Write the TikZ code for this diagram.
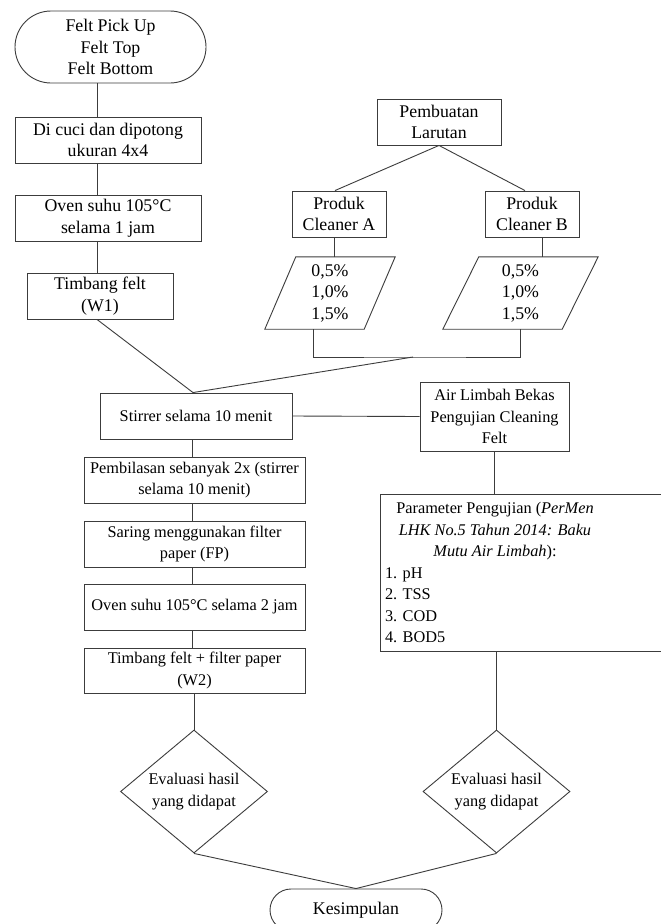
\documentclass[tikz,border=0pt]{standalone}
\usepackage{fontspec}
\setmainfont{Liberation Serif}
\usetikzlibrary{shapes.geometric}
\definecolor{lc}{HTML}{3C3C3C}
\newcommand\txtL{\fontsize{17.8}{21.5}\selectfont}
\newcommand\txtS{\fontsize{16.3}{21.5}\selectfont}
\begin{document}
\begin{tikzpicture}[x=1pt,y=-1pt,
  box/.style={draw=lc, line width=0.9pt, rectangle, inner sep=0pt, align=center, font=\txtL},
  term/.style={draw=lc, line width=0.9pt, rectangle, inner sep=0pt, align=center, font=\txtL},
  txt/.style={inner sep=0pt, align=center, font=\txtL},
  dia/.style={diamond, draw=lc, line width=0.9pt, aspect=1.2, inner sep=0pt, minimum width=147pt, minimum height=123pt, align=center, font=\txtS},
  conn/.style={draw=lc, line width=0.9pt}]
\useasboundingbox (0,0) rectangle (661,924);
\clip (0,0) rectangle (661,924);
\fill[white] (0,0) rectangle (661,924);

% left top column
\node[term, minimum width=191pt, minimum height=72pt, rounded corners=36pt] (start) at (110.5,47) {Felt Pick Up\\Felt Top\\Felt Bottom};
\node[box, minimum width=186pt, minimum height=46pt] (b1) at (108,140) {Di cuci dan dipotong\\ukuran 4x4};
\node[box, minimum width=186pt, minimum height=46pt] (b2) at (108,218) {Oven suhu 105°C\\selama 1 jam};
\node[box, minimum width=146pt, minimum height=46pt] (b3) at (100,296) {Timbang felt\\(W1)};

% right top
\node[box, minimum width=124pt, minimum height=46pt] (lar) at (439,122) {Pembuatan\\Larutan};
\node[box, minimum width=94pt, minimum height=46pt] (ca) at (339,214) {Produk\\Cleaner A};
\node[box, minimum width=94pt, minimum height=46pt] (cb) at (532,214) {Produk\\Cleaner B};
\node[txt, minimum width=130pt, minimum height=72pt] (pa) at (330,293) {0,5\%\\1,0\%\\1,5\%};
\node[txt, minimum width=155pt, minimum height=72pt] (pb) at (520.5,293) {0,5\%\\1,0\%\\1,5\%};
\draw[conn] ([xshift=31pt]pa.north west) -- (pa.north east) -- ([xshift=-31pt]pa.south east) -- (pa.south west) -- cycle;
\draw[conn] ([xshift=36pt]pb.north west) -- (pb.north east) -- ([xshift=-36pt]pb.south east) -- (pb.south west) -- cycle;

% middle
\node[box, font=\txtS, minimum width=192pt, minimum height=46pt] (stir) at (196,416) {Stirrer selama 10 menit};
\node[box, font=\txtS, minimum width=149pt, minimum height=69pt] (air) at (494.5,416.5) {Air Limbah Bekas\\Pengujian Cleaning\\Felt};
\node[box, minimum width=285pt, minimum height=157pt] (par) at (522.5,572.5) {};
\node[inner sep=0pt, font=\txtS] (partxt) at (495,572.5) {\parbox{220pt}{\txtS\centering Parameter Pengujian (\textit{PerMen}\\\textit{LHK No.5 Tahun 2014: Baku}\\\textit{Mutu Air Limbah}):\par\raggedright 1. pH\\2. TSS\\3. COD\\4. BOD5}};

% left column
\node[box, font=\txtS, minimum width=221pt, minimum height=46pt] (p1) at (194.5,480) {Pembilasan sebanyak 2x (stirrer\\selama 10 menit)};
\node[box, font=\txtS, minimum width=221pt, minimum height=46pt] (p2) at (194.5,544) {Saring menggunakan filter\\paper (FP)};
\node[box, font=\txtS, minimum width=221pt, minimum height=46pt] (p3) at (194.5,607) {Oven suhu 105°C selama 2 jam};
\node[box, font=\txtS, minimum width=221pt, minimum height=45pt] (p4) at (194.5,670.5) {Timbang felt + filter paper\\(W2)};

% diamonds and end
\node[dia] (d1) at (194,791.5) {Evaluasi hasil\\yang didapat};
\node[dia] (d2) at (496.5,791.5) {Evaluasi hasil\\yang didapat};
\node[term, minimum width=172pt, minimum height=42pt, rounded corners=21pt] (kes) at (356,910) {Kesimpulan};

% connectors
\coordinate (xl) at (97,0);
\coordinate (xm) at (192,0);
\coordinate (jn) at (413,357);
\draw[conn] (start.south -| xl) -- (b1.north -| xl);
\draw[conn] (b1.south -| xl) -- (b2.north -| xl);
\draw[conn] (b2.south -| xl) -- (b3.north -| xl);
\draw[conn] (b3.south -| xl) -- ([xshift=-3pt]stir.north);
\draw[conn] (lar.south) -- ([xshift=-4pt]ca.north);
\draw[conn] (lar.south) -- ([xshift=-7pt]cb.north);
\draw[conn] ([xshift=-5pt]ca.south) -- ([xshift=-5pt]ca.south |- pa.north);
\draw[conn] ([xshift=10pt]cb.south) -- ([xshift=10pt]cb.south |- pb.north);
\draw[conn] ([xshift=-17pt]pa.south) |- (jn) -| (pb.south);
\draw[conn] (jn) -- ([xshift=-3pt]stir.north);
\draw[conn] (stir.east) -- (air.west);
\draw[conn] (air.south) -- (air.south |- par.north);
\draw[conn] (stir.south -| xm) -- (p1.north -| xm);
\draw[conn] (p1.south -| xm) -- (p2.north -| xm);
\draw[conn] (p2.south -| xm) -- (p3.north -| xm);
\draw[conn] (p3.south -| xm) -- (p4.north -| xm);
\draw[conn] (d1.north |- p4.south) -- (d1.north);
\draw[conn] (d2.north |- par.south) -- (d2.north);
\draw[conn] (d1.south) -- (kes.north);
\draw[conn] (d2.south) -- (kes.north);
\end{tikzpicture}
\end{document}
